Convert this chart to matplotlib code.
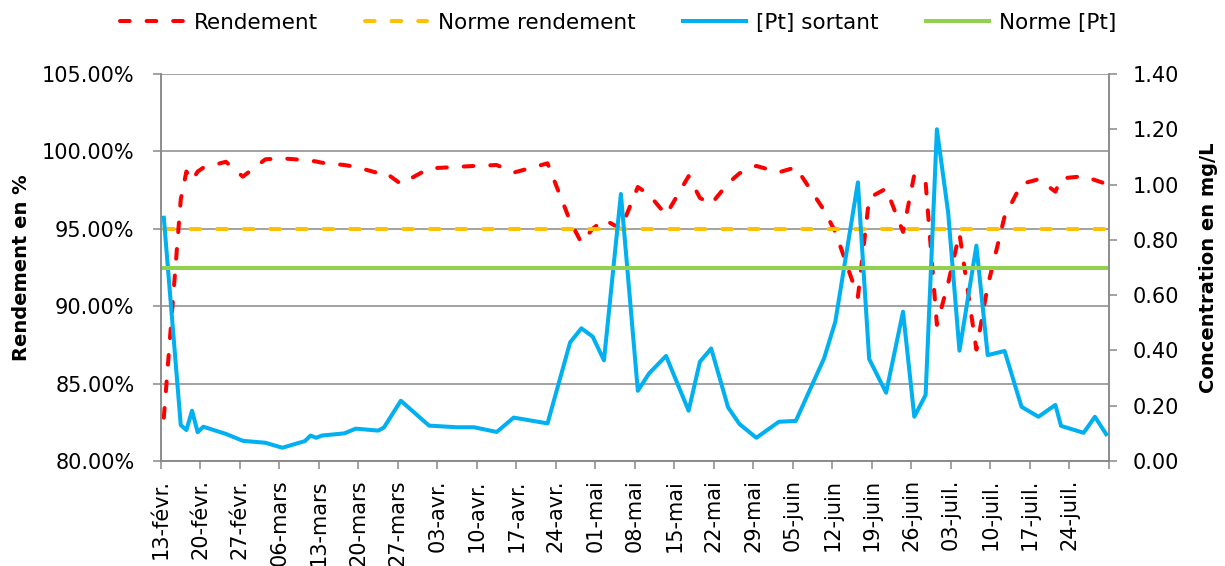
import matplotlib
matplotlib.use("Agg")
import matplotlib.pyplot as plt
import matplotlib.dates as mdates
import pandas as pd
import numpy as np
from matplotlib.ticker import FuncFormatter, FixedLocator

plt.rcParams['font.family'] = ['DejaVu Sans']

dates = ["2017-02-13", "2017-02-16", "2017-02-17", "2017-02-18", "2017-02-19", "2017-02-20",
         "2017-02-24", "2017-02-27", "2017-03-03", "2017-03-06", "2017-03-10", "2017-03-11",
         "2017-03-12", "2017-03-13", "2017-03-17", "2017-03-19", "2017-03-23", "2017-03-24",
         "2017-03-27", "2017-04-01", "2017-04-06", "2017-04-09", "2017-04-13", "2017-04-16",
         "2017-04-22", "2017-04-26", "2017-04-28", "2017-04-30", "2017-05-02", "2017-05-05",
         "2017-05-08", "2017-05-10", "2017-05-13", "2017-05-17", "2017-05-19", "2017-05-21",
         "2017-05-24", "2017-05-26", "2017-05-29", "2017-06-02", "2017-06-05", "2017-06-10",
         "2017-06-12", "2017-06-16", "2017-06-18", "2017-06-21", "2017-06-24", "2017-06-26",
         "2017-06-28", "2017-06-30", "2017-07-02", "2017-07-04", "2017-07-07", "2017-07-09",
         "2017-07-12", "2017-07-15", "2017-07-18", "2017-07-21", "2017-07-22", "2017-07-26",
         "2017-07-28", "2017-07-30"]

rendement = [82.8, 96.9, 98.7, 98.1, 98.7, 98.95,
             99.33, 98.37, 99.49, 99.55, 99.44, 99.4,
             99.35, 99.27, 99.12, 99.0, 98.6, 98.7,
             97.9, 98.9, 99.0, 99.06, 99.12, 98.63,
             99.23, 95.5, 94.1, 95.0, 95.6, 95.0,
             97.7, 97.2, 95.9, 98.4, 97.0, 96.6,
             97.94, 98.58, 99.06, 98.65, 98.97, 96.2,
             94.8, 90.6, 97.0, 97.6, 94.8, 98.5,
             98.0, 88.8, 91.5, 94.7, 87.2, 91.3,
             95.8, 97.9, 98.2, 97.4, 98.25, 98.4,
             98.15, 97.9]

pt_sortant = [0.88, 0.130, 0.112, 0.182, 0.104, 0.124,
              0.098, 0.073, 0.066, 0.048, 0.072, 0.092,
              0.084, 0.092, 0.100, 0.117, 0.110, 0.121,
              0.218, 0.128, 0.122, 0.122, 0.105, 0.157,
              0.136, 0.429, 0.480, 0.450, 0.364, 0.966,
              0.254, 0.317, 0.380, 0.182, 0.359, 0.407,
              0.194, 0.134, 0.084, 0.142, 0.145, 0.371,
              0.504, 1.008, 0.369, 0.247, 0.540, 0.160,
              0.239, 1.200, 0.898, 0.399, 0.779, 0.383,
              0.398, 0.196, 0.160, 0.203, 0.127, 0.102,
              0.160, 0.097]

norme_rendement = 95.0
norme_pt = 0.70

tick_labels = ["13-févr.", "20-févr.", "27-févr.", "06-mars", "13-mars", "20-mars",
               "27-mars", "03-avr.", "10-avr.", "17-avr.", "24-avr.", "01-mai",
               "08-mai", "15-mai", "22-mai", "29-mai", "05-juin", "12-juin",
               "19-juin", "26-juin", "03-juil.", "10-juil.", "17-juil.", "24-juil."]

x_start = pd.Timestamp("2017-02-13")
x_end = pd.Timestamp("2017-07-31")

RED = "#FF0000"
YELLOW = "#FFC000"
BLUE = "#00B0F0"
GREEN = "#92D050"
GRID = "#898989"

fig = plt.figure(figsize=(12.25, 5.66), dpi=100)
ax = fig.add_axes([161/1225, 1-461/566, (1109-161)/1225, (461-74)/566])
ax2 = ax.twinx()

xd = pd.to_datetime(dates) + pd.Timedelta(hours=12)
xs = mdates.date2num(xd)
x0 = mdates.date2num(x_start)
x1 = mdates.date2num(x_end)

lw = 2.9
l1, = ax.plot(xs, rendement, color=RED, lw=lw, dashes=(2.4, 4.2),
              dash_capstyle='round', solid_joinstyle='round', label="Rendement", zorder=3)
l2, = ax.plot([x0 + 0.5, x1 - 0.5], [norme_rendement, norme_rendement], color=YELLOW, lw=lw,
              dashes=(2.4, 4.2), dash_capstyle='round', label="Norme rendement", zorder=3)
l3, = ax2.plot(xs, pt_sortant, color=BLUE, lw=lw, solid_joinstyle='round',
               label="[Pt] sortant", zorder=3)
l4, = ax2.plot([x0 + 0.5, x1 - 0.5], [norme_pt, norme_pt], color=GREEN, lw=lw,
               label="Norme [Pt]", zorder=3)

ax.set_xlim(x0, x1)
ax.set_ylim(80, 105)
ax2.set_ylim(0, 1.4)
ax.set_yticks(np.arange(80, 105.1, 5))
ax2.set_yticks(np.arange(0, 1.41, 0.2))
ax.yaxis.set_major_formatter(FuncFormatter(lambda v, p: f"{v:.2f}%"))
ax2.yaxis.set_major_formatter(FuncFormatter(lambda v, p: f"{v:.2f}"))

tick_pos = [x0 + 7 * i for i in range(len(tick_labels) + 1)]
ax.xaxis.set_major_locator(FixedLocator(tick_pos))
ax.set_xticklabels(tick_labels + [""], rotation=90, fontsize=15)

ax.grid(axis='y', color=GRID, lw=1.1)
ax.set_axisbelow(True)
for a in (ax, ax2):
    a.spines['top'].set_visible(False)
    for s in ('left', 'right', 'bottom'):
        a.spines[s].set_color(GRID)
        a.spines[s].set_linewidth(1.1)
    a.tick_params(colors=GRID, width=1.1, length=6, labelsize=15, labelcolor='black')
ax.tick_params(axis='y', pad=13)
ax2.tick_params(axis='y', pad=11)
ax.tick_params(axis='x', pad=7, labelsize=15)

ax.set_ylabel("Rendement en %", fontsize=14, fontweight='bold', labelpad=8)
ax2.set_ylabel("Concentration en mg/L", fontsize=14, fontweight='bold', labelpad=14)

fig.legend(handles=[l1, l2, l3, l4], loc='upper center', bbox_to_anchor=(0.505, 1.012),
           ncol=4, frameon=False, fontsize=15.5, handlelength=2.9, columnspacing=2.2,
           handletextpad=0.5)

fig.savefig("out.png", dpi=100)
